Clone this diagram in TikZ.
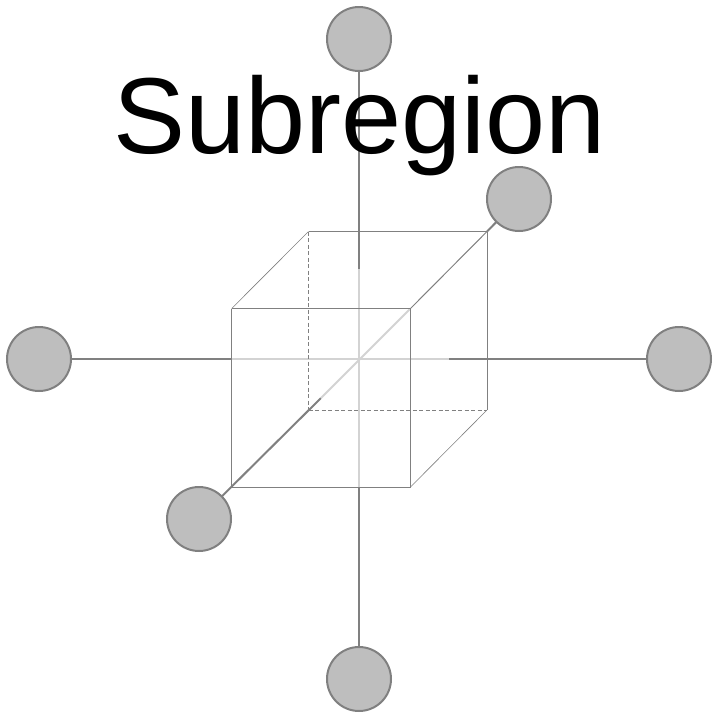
\documentclass[tikz,border=0pt]{standalone}
\usepackage{fontspec}
\setmainfont{Liberation Sans}
\usetikzlibrary{shapes}
\definecolor{darkline}{HTML}{808080}
\definecolor{lightline}{HTML}{D3D3D3}
\definecolor{ballfill}{HTML}{BEBEBE}
\tikzset{
  ball/.style={shape=circle,draw=darkline,fill=ballfill,line width=2pt,minimum size=64pt,inner sep=0pt},
  darkaxis/.style={-,draw=darkline,line width=2pt},
  lightaxis/.style={-,draw=lightline,line width=2pt},
  cubeedge/.style={-,draw=darkline,line width=1pt},
  slantedge/.style={-,draw=darkline,line width=0.6pt},
  hiddenedge/.style={-,draw=darkline,line width=1pt,dash pattern=on 4pt off 2.5pt},
}
\begin{document}
\begin{tikzpicture}[x=1pt,y=-1pt]
\useasboundingbox (0,0) rectangle (718,718);
\coordinate (fa) at (231.7,308.5);
\coordinate (fb) at (410.5,308.5);
\coordinate (fc) at (410.5,487);
\coordinate (fd) at (231.7,487);
\coordinate (ba) at (308.5,231.5);
\coordinate (bb) at (487,231.5);
\coordinate (bc) at (487,410);
\coordinate (bd) at (308.5,410);
\coordinate (topend) at (359,269);
\coordinate (rightend) at (449,359);
\coordinate (diagend) at (321,398);
\coordinate (botend) at (359,487);
\coordinate (leftend) at (231.7,359);

\path [darkaxis] (359,39) coordinate (topc) edge (topend);
\path [darkaxis] (359,679) coordinate (botc) edge (botend);
\path [darkaxis] (39,359) coordinate (leftc) edge (leftend);
\path [darkaxis] (679,359) coordinate (rightc) edge (rightend);
\path [darkaxis] (519,199) coordinate (backc) edge (bb);
\path [darkaxis] (199,519) coordinate (frontc) edge (diagend);
\path [lightaxis] (topend) edge (botend);
\path [lightaxis] (leftend) edge (rightend);
\path [lightaxis] (fb) edge (diagend);

\path [cubeedge] (fa) edge (fb);
\path [cubeedge] (fb) edge (fc);
\path [cubeedge] (fc) edge (fd);
\path [cubeedge] (fd) edge (fa);
\path [cubeedge] (ba) edge (bb);
\path [cubeedge] (bb) edge (bc);
\path [slantedge] (fa) edge (ba);
\path [cubeedge] (fb) edge (bb);
\path [slantedge] (fc) edge (bc);
\path [hiddenedge] (ba) edge (bd);
\path [hiddenedge] (bd) edge (bc);

\node[ball] (top) at (topc) {};
\node[ball] (bot) at (botc) {};
\node[ball] (left) at (leftc) {};
\node[ball] (right) at (rightc) {};
\node[ball] (back) at (backc) {};
\node[ball] (front) at (frontc) {};
\node[anchor=base,inner sep=0pt,font=\fontsize{108}{108}\selectfont] (title) at (359.5,153) {Subregion};
\end{tikzpicture}
\end{document}
